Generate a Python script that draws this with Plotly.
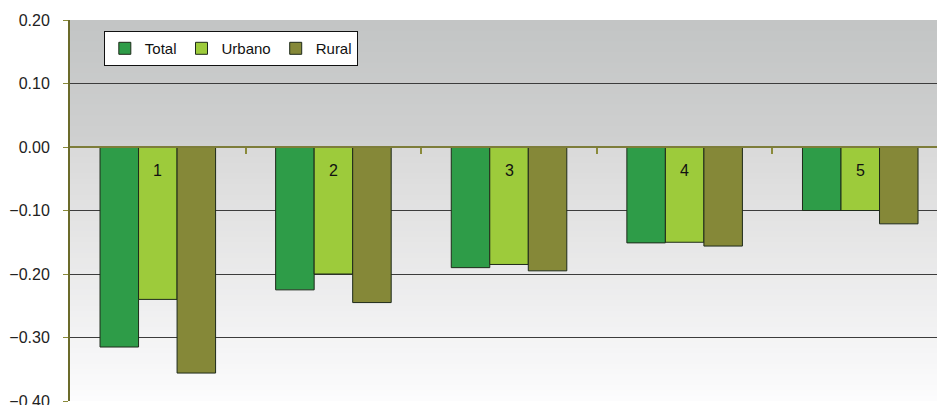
import plotly.graph_objects as go

categories = ["1", "2", "3", "4", "5"]
total = [-0.315, -0.225, -0.190, -0.151, -0.100]
urbano = [-0.240, -0.200, -0.185, -0.150, -0.100]
rural = [-0.356, -0.245, -0.195, -0.156, -0.121]
y_ticks = [0.20, 0.10, 0.00, -0.10, -0.20, -0.30, -0.40]
label_y = -0.037

series = [
    ("Total", total, "#2e9c48"),
    ("Urbano", urbano, "#9dcb3b"),
    ("Rural", rural, "#858838"),
]

fig = go.Figure()
for name, vals, col in series:
    fig.add_trace(go.Bar(
        name=name, x=categories, y=vals,
        marker=dict(color=col, line=dict(color="#1e2a1a", width=1)),
        hoverinfo="skip",
    ))

# helper trace for the category tick axis at zero
fig.add_trace(go.Scatter(x=[-0.5], y=[0], xaxis="x2", yaxis="y", mode="none",
                         showlegend=False, hoverinfo="skip"))

# gradient background bands (each band runs to the region bottom, so no seams)
shapes = []
n_top = 24
for i in range(n_top):
    t = i / (n_top - 1)
    y_top = 0.2 - 0.2 * i / n_top
    c = [int(195 + (208 - 195) * t), int(197 + (209 - 197) * t), int(197 + (209 - 197) * t)]
    shapes.append(dict(type="rect", xref="paper", yref="y", x0=0, x1=1, y0=0.0, y1=y_top,
                       fillcolor="rgb(%d,%d,%d)" % tuple(c), line=dict(width=0), layer="below"))
n_bot = 48
for i in range(n_bot):
    t = i / (n_bot - 1)
    y_top = 0.0 - 0.4 * i / n_bot
    c = [int(218 + (252 - 218) * t), int(218 + (252 - 218) * t), int(218 + (253 - 218) * t)]
    shapes.append(dict(type="rect", xref="paper", yref="y", x0=0, x1=1, y0=-0.4, y1=y_top,
                       fillcolor="rgb(%d,%d,%d)" % tuple(c), line=dict(width=0), layer="below"))

annotations = [dict(x=i, y=label_y, text=c, showarrow=False, xref="x", yref="y",
                    font=dict(family="Liberation Sans, Arial", size=16, color="#111"))
               for i, c in enumerate(categories)]

x_range = [-0.5, 4.437]
fig.update_layout(
    width=937, height=405,
    margin=dict(l=70, r=0, t=20, b=4, autoexpand=False),
    paper_bgcolor="white",
    plot_bgcolor="white",
    barmode="group",
    bargap=0.342,
    bargroupgap=0,
    font=dict(family="Liberation Sans, Arial", size=15, color="#222"),
    xaxis=dict(type="category", range=x_range, showticklabels=False, ticks="",
               showgrid=False, zeroline=False, showline=False, automargin=False),
    xaxis2=dict(type="linear", overlaying="x", anchor="free", position=2 / 3,
                range=x_range, tickvals=[0.5, 1.5, 2.5, 3.5], ticks="outside",
                ticklen=6, tickcolor="#8a8a3a", tickwidth=2, showticklabels=False,
                showgrid=False, zeroline=False, showline=True, automargin=False,
                linecolor="#7d7d3a", linewidth=1.5),
    yaxis=dict(range=[-0.4, 0.2], tickvals=y_ticks, tickformat=".2f",
               showgrid=True, gridcolor="#3c3c3c", gridwidth=1, automargin=False,
               zeroline=False, showline=True, linecolor="#6b6b2a", linewidth=2,
               ticks="outside", ticklen=5, tickcolor="#8a8a3a",
               ticklabelstandoff=10, ticklabeloverflow="allow",
               tickfont=dict(size=16, color="#222")),
    legend=dict(orientation="h", x=0.039, y=0.971, xanchor="left", yanchor="top",
                bgcolor="white", bordercolor="#111", borderwidth=1,
                font=dict(size=15, color="#111"), itemwidth=30, traceorder="normal"),
    shapes=shapes,
    annotations=annotations,
)

fig.write_html("out.html")
